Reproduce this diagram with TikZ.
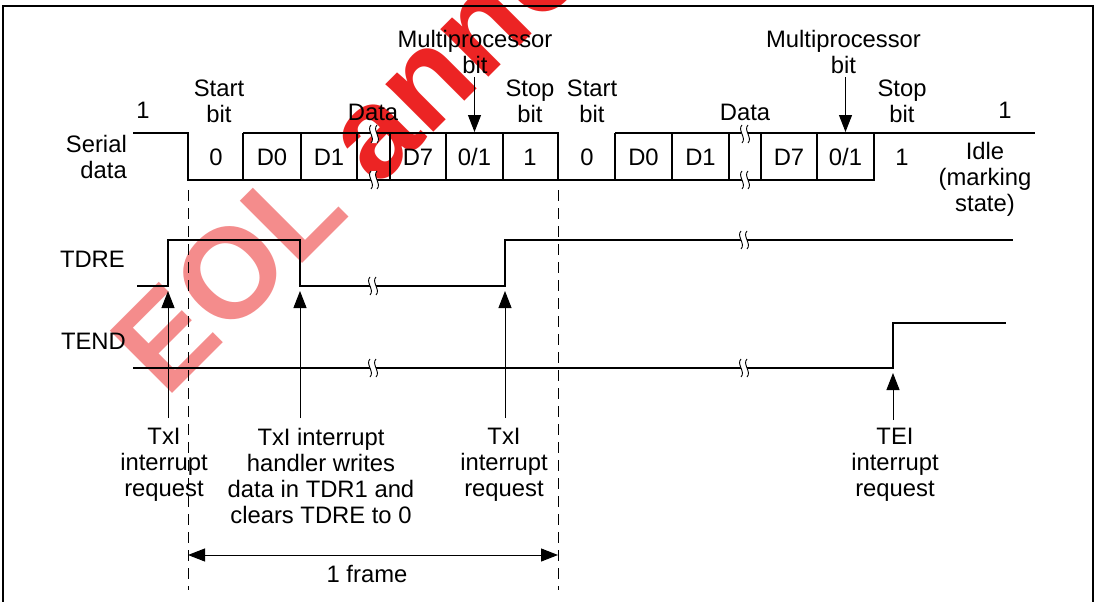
\documentclass[tikz,border=0pt]{standalone}
\usepackage{fontspec}
\setmainfont{Liberation Sans}
\usetikzlibrary{arrows.meta}
\definecolor{wmpink}{RGB}{244,140,140}
\definecolor{wmred}{RGB}{236,36,36}
\begin{document}
\begin{tikzpicture}[x=1pt,y=-1pt,
  lbl/.style={inner sep=0pt, font=\fontsize{23.8}{26}\selectfont, align=center},
  sig/.style={line width=1.8pt},
  wave/.style={line width=1.4pt},
  arr/.style={line width=1pt, -{Triangle[length=17pt,width=13pt]}},
  darr/.style={line width=1pt, {Triangle[length=17pt,width=13pt]}-{Triangle[length=17pt,width=13pt]}},
  dsh/.style={line width=1pt, dash pattern=on 11pt off 7pt},
  frm/.style={line width=2pt},
  wm/.style={inner sep=0pt, font=\fontsize{128}{128}\selectfont\bfseries},
  brk/.pic={
    \fill[white] (-2,-9) .. controls (-7,-4) and (3,4) .. (-2,9) -- (4,9) .. controls (9,4) and (-1,-4) .. (4,-9) -- cycle;
    \draw[line width=0.9pt] (-2,-9) .. controls (-7,-4) and (3,4) .. (-2,9);
    \draw[line width=0.9pt] (4,-9) .. controls (-1,-4) and (9,4) .. (4,9);
  }
]
\useasboundingbox (0,0) rectangle (1098,602);

% watermark
\begin{scope}
  \clip (0,0) rectangle (1098,602);
  \node[wm, anchor=base west, rotate=45] (wmk) at (166,400) {\color{wmpink}EOL \color{wmred}announced};
\end{scope}

% frame
\draw[frm] (3,602) -- (3,6) -- (1093,6) -- (1093,602);

% serial data waveform
\draw[wave] (133,133) -- (188,133) -- (188,180) -- (874,180) -- (874,133);
\draw[wave] (243,133) -- (558,133) -- (558,180);
\draw[wave] (615,133) -- (1035,133);
\foreach \x in {243,301,357,390,446,503,615,672,729,761,817}
  \draw[wave] (\x,133) -- (\x,180);

% TDRE and TEND
\draw[sig] (137,286) -- (168,286) -- (168,240) -- (300,240) -- (300,286) -- (505,286) -- (505,240) -- (1013,240);
\draw[sig] (133,368) -- (893,368) -- (893,323) -- (1006,323);

% break marks
\pic at (373,134) {brk};
\pic at (373,180) {brk};
\pic at (744,134) {brk};
\pic at (744,180) {brk};
\pic at (372,286) {brk};
\pic at (372,368) {brk};
\pic at (743,240) {brk};
\pic at (743,368) {brk};

% dashed frame limits
\coordinate (d1t) at (188,190);
\coordinate (d1b) at (188,590);
\coordinate (d2t) at (558,190);
\coordinate (d2b) at (558,590);
\draw[dsh] (d1t) -- (d1b);
\draw[dsh] (d2t) -- (d2b);

% top labels
\node[lbl, anchor=north east, align=right] (serial) at (127,135) {Serial\\data};
\node[lbl, anchor=base] (one1) at (143,118) {1};
\node[lbl, anchor=north] (start1) at (219,80) {Start\\bit};
\node[lbl, anchor=base] (data1) at (373,121) {Data};
\node[lbl, anchor=north] (mp1) at (475,30) {Multiprocessor\\bit};
\node[lbl, anchor=north] (stop1) at (530,80) {Stop\\bit};
\node[lbl, anchor=north] (start2) at (592,80) {Start\\bit};
\node[lbl, anchor=base] (data2) at (745,121) {Data};
\node[lbl, anchor=north] (mp2) at (843.5,30) {Multiprocessor\\bit};
\node[lbl, anchor=north] (stop2) at (902,80) {Stop\\bit};
\node[lbl, anchor=base] (one2) at (1005,118) {1};
\node[lbl, anchor=north] (idle) at (985,142) {Idle\\(marking\\state)};

% cell labels
\node[lbl, anchor=base] (c0) at (216,165) {0};
\node[lbl, anchor=base] (c1) at (272,165) {D0};
\node[lbl, anchor=base] (c2) at (329,165) {D1};
\node[lbl, anchor=base] (c3) at (418,165) {D7};
\node[lbl, anchor=base] (c4) at (474.5,165) {0/1};
\node[lbl, anchor=base] (c5) at (530,165) {1};
\node[lbl, anchor=base] (e0) at (587,165) {0};
\node[lbl, anchor=base] (e1) at (643.5,165) {D0};
\node[lbl, anchor=base] (e2) at (700.5,165) {D1};
\node[lbl, anchor=base] (e3) at (789,165) {D7};
\node[lbl, anchor=base] (e4) at (845.5,165) {0/1};
\node[lbl, anchor=base] (e5) at (902,165) {1};

% signal names
\node[lbl, anchor=base east] (tdre) at (125,267) {TDRE};
\node[lbl, anchor=base east] (tend) at (126,349) {TEND};

% bottom labels
\node[lbl, anchor=north] (txi1) at (164,428) {TxI\\interrupt\\request};
\node[lbl, anchor=north] (hdl) at (321,428) {TxI interrupt\\handler writes\\data in TDR1 and\\clears TDRE to 0};
\node[lbl, anchor=north] (txi2) at (504,428) {TxI\\interrupt\\request};
\node[lbl, anchor=north] (tei) at (895,428) {TEI\\interrupt\\request};
\node[lbl, anchor=base] (frame) at (367,582) {1 frame};

% multiprocessor arrows
\coordinate (mp1s) at (474.5,77);
\coordinate (mp1e) at (474.5,132);
\coordinate (mp2s) at (845.5,77);
\coordinate (mp2e) at (845.5,132);
\draw[arr] (mp1s) -- (mp1e);
\draw[arr] (mp2s) -- (mp2e);

% interrupt arrows
\coordinate (a1s) at (168,418);
\coordinate (a1e) at (168,291);
\coordinate (a2s) at (300,418);
\coordinate (a2e) at (300,291);
\coordinate (a3s) at (505,418);
\coordinate (a3e) at (505,291);
\coordinate (a4s) at (893,420);
\coordinate (a4e) at (893,373);
\draw[arr] (a1s) -- (a1e);
\draw[arr] (a2s) -- (a2e);
\draw[arr] (a3s) -- (a3e);
\draw[arr] (a4s) -- (a4e);

% frame length arrow
\coordinate (fl) at (188,555);
\coordinate (fr) at (558,555);
\draw[darr] (fl) -- (fr);
\end{tikzpicture}
\end{document}
